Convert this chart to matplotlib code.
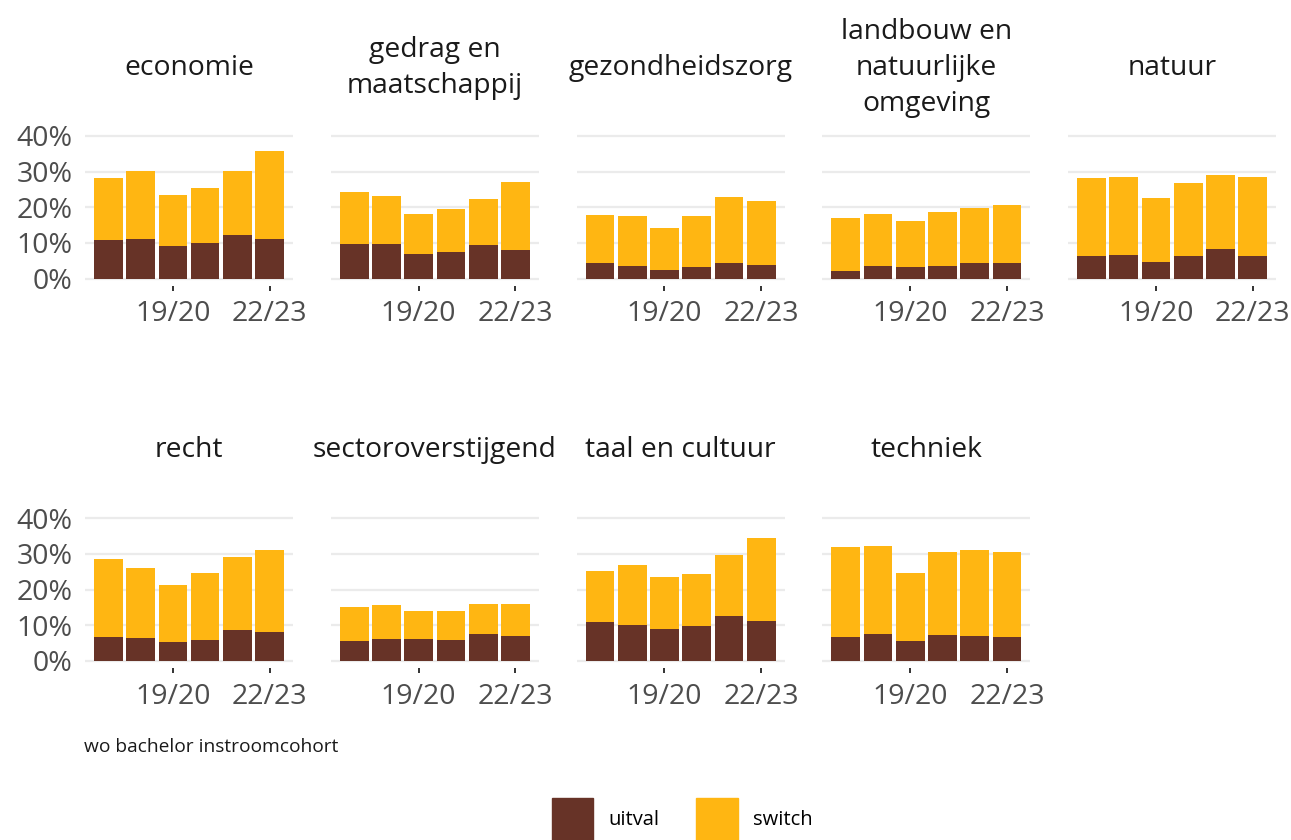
import numpy as np
import matplotlib
matplotlib.use("Agg")
import matplotlib.pyplot as plt
from matplotlib.patches import Patch

plt.rcParams['font.family'] = ['Open Sans', 'DejaVu Sans']

years = ['17/18', '18/19', '19/20', '20/21', '21/22', '22/23']
tickYears = ['19/20', '22/23']
sectors = ['economie', 'gedrag en\nmaatschappij', 'gezondheidszorg',
           'landbouw en\nnatuurlijke\nomgeving', 'natuur', 'recht',
           'sectoroverstijgend', 'taal en cultuur', 'techniek']

# percentages per cohort
uitval = [
    [10.7, 11.0, 9.1, 9.9, 12.1, 11.0],   # economie
    [9.6, 9.6, 6.8, 7.4, 9.3, 7.9],       # gedrag en maatschappij
    [4.3, 3.5, 2.3, 3.2, 4.3, 3.7],       # gezondheidszorg
    [2.1, 3.5, 3.2, 3.5, 4.3, 4.3],       # landbouw
    [6.3, 6.5, 4.6, 6.3, 8.2, 6.3],       # natuur
    [6.7, 6.4, 5.2, 5.8, 8.6, 8.1],       # recht
    [5.5, 6.1, 6.1, 5.8, 7.5, 6.9],       # sectoroverstijgend
    [10.9, 10.0, 8.9, 9.7, 12.6, 11.1],   # taal en cultuur
    [6.7, 7.5, 5.5, 7.2, 6.9, 6.7],       # techniek
]
switch = [
    [17.4, 19.1, 14.3, 15.4, 18.0, 24.7],
    [14.6, 13.5, 11.2, 12.0, 12.9, 19.1],
    [13.5, 14.0, 11.8, 14.3, 18.5, 18.0],
    [14.8, 14.5, 12.9, 15.1, 15.4, 16.3],
    [21.8, 21.9, 17.9, 20.4, 20.8, 22.1],
    [21.9, 19.6, 16.1, 18.8, 20.5, 23.0],
    [9.6, 9.5, 7.9, 8.2, 8.4, 9.0],
    [14.3, 16.9, 14.6, 14.7, 17.1, 23.4],
    [25.2, 24.7, 19.1, 23.3, 24.2, 23.8],
]
yTicks = [0, 10, 20, 30, 40]

BROWN = '#673327'
YELLOW = '#FFB612'
W, H = 1291, 840


def px(left, top, width, height):
    # pixel box (from top-left) -> figure fraction
    return [left / W, 1 - (top + height) / H, width / W, height / H]


def drawPanel(fig, i, sector):
    row, col = divmod(i, 5)
    left = 85 + col * 245.8
    top = 128.7 + row * 382.3
    ax = fig.add_axes(px(left, top, 208, 157))
    x = np.arange(1, len(years) + 1)
    ax.bar(x, uitval[i], width=0.89, color=BROWN)
    ax.bar(x, switch[i], bottom=uitval[i], width=0.89, color=YELLOW)
    ax.set_xlim(0.275, 6.725)
    ax.set_ylim(-2, 42)
    ax.set_xticks([years.index(y) + 1 for y in tickYears])
    ax.set_xticklabels(tickYears)
    ax.set_yticks(yTicks)
    if col == 0:
        ax.set_yticklabels([f'{v}%' for v in yTicks])
    else:
        ax.set_yticklabels([])
    ax.tick_params(axis='x', length=3.6, width=1.4, color='#333333',
                   labelsize=20.5, labelcolor='#4D4D4D', pad=7)
    ax.tick_params(axis='y', length=0, labelsize=20.5, labelcolor='#4D4D4D', pad=9)
    for s in ax.spines.values():
        s.set_visible(False)
    ax.set_axisbelow(True)
    ax.yaxis.grid(True, color='#EBEBEB', lw=1.6)
    fig.text((left + 104) / W, 1 - (68 + row * 382.3) / H, sector,
             ha='center', va='center', ma='center', fontsize=20.3,
             color='#1A1A1A', linespacing=1.37)


def main():
    fig = plt.figure(figsize=(W / 100, H / 100), dpi=100)
    for i, sector in enumerate(sectors):
        drawPanel(fig, i, sector)

    fig.text(84 / W, 1 - 747 / H, 'wo bachelor instroomcohort',
             ha='left', va='center', fontsize=13.8, color='#1A1A1A')

    handles = [Patch(color=BROWN, label='uitval'), Patch(color=YELLOW, label='switch')]
    fig.legend(handles=handles, loc='center', bbox_to_anchor=(682 / W, 1 - 819 / H),
               ncol=2, frameon=False, fontsize=14.5, handlelength=2.08,
               handleheight=2.83, handletextpad=0.75, columnspacing=1.8,
               borderpad=0)

    fig.savefig('out.png', dpi=100)


if __name__ == "__main__":
    main()
